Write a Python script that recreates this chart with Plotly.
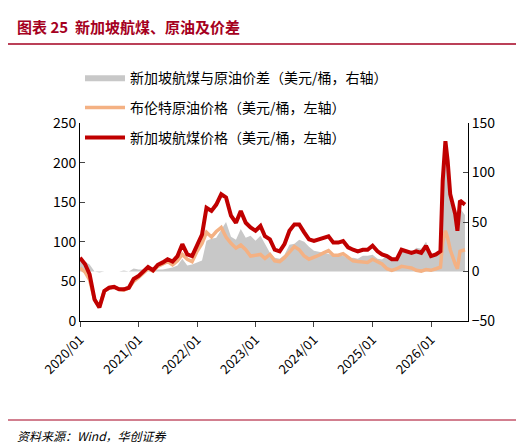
import plotly.graph_objects as go
import pandas as pd

months = pd.date_range("2020-01-01", "2026-03-01", freq="MS").strftime("%Y-%m-%d").tolist()
extra_dates = ["2026-03-15", "2026-04-01", "2026-04-15", "2026-05-01", "2026-06-01", "2026-06-15", "2026-07-01", "2026-08-01"]
dates = months + extra_dates

jet = [80, 72, 59, 27, 17, 38, 42, 43, 40, 40, 42, 53,
       57, 63, 68, 64, 71, 74, 78, 75, 82, 97, 84, 82,
       97, 109, 143, 139, 147, 160, 156, 133, 124, 139, 124, 118,
       114, 120, 107, 103, 90, 88, 97, 114, 122, 122, 112, 103,
       101, 103, 105, 107, 99, 99, 101, 93, 90, 88, 90, 90,
       95, 88, 84, 82, 78, 78, 90, 88, 86, 88, 86, 95,
       82, 84, 88,
       177, 227, 202, 160, 135, 114, 152, 147]
brent = [67, 62, 52, 27, 18, 38, 42, 43, 40, 39, 42, 50,
         55, 61, 66, 63, 69, 72, 75, 71, 76, 84, 78, 75,
         88, 98, 112, 106, 113, 118, 106, 98, 92, 96, 90, 82,
         83, 84, 79, 84, 76, 75, 80, 87, 94, 90, 82, 78,
         80, 83, 86, 89, 83, 83, 85, 80, 76, 75, 74, 74,
         78, 75, 72, 66, 64, 66, 69, 68, 67, 64, 63, 65,
         64, 66, 68,
         100, 114, 105, 90, 72, 66, 88, 90]
spread = [j - b for j, b in zip(jet, brent)]

tick_vals = [f"{y}-01-01" for y in range(2020, 2027)]
tick_text = [f"{y}/01" for y in range(2020, 2027)]

font = "Noto Sans CJK SC"
fig = go.Figure()
# spread on primary axis (drawn first, shown on the right); lines on overlaying left axis
fig.add_trace(go.Scatter(x=dates, y=spread, yaxis="y", mode="lines", line=dict(width=0, color="#c8c8c8"),
                         fill="tozeroy", fillcolor="#c8c8c8", legendgroup="a",
                         name="新加坡航煤与原油价差（美元/桶，右轴）"))
fig.add_trace(go.Scatter(x=dates, y=brent, yaxis="y2", mode="lines", line=dict(width=3.5, color="#f4b183"),
                         legendgroup="b", name="布伦特原油价格（美元/桶，左轴）"))
fig.add_trace(go.Scatter(x=dates, y=jet, yaxis="y2", mode="lines", line=dict(width=4, color="#c00000"),
                         legendgroup="c", name="新加坡航煤价格（美元/桶，左轴）"))

fig.update_layout(
    width=524, height=445, paper_bgcolor="white", plot_bgcolor="white",
    margin=dict(l=72, r=64, t=115, b=132, autoexpand=False),
    font=dict(family=font, size=13, color="black"),
    showlegend=True,
    legend=dict(x=0.0, y=1.31, xanchor="left", yanchor="top", bgcolor="rgba(0,0,0,0)",
                font=dict(size=14), tracegroupgap=9, itemwidth=40),
    xaxis=dict(range=["2020-01-01", "2026-08-20"], tickvals=tick_vals, ticktext=tick_text,
               tickangle=-45, showline=True, linecolor="black", ticks="outside", ticklen=5,
               showgrid=False, tickfont=dict(size=13), automargin=False),
    yaxis=dict(range=[-50, 150], dtick=50, side="right", showline=True,
               linecolor="black", ticks="inside", showgrid=False, zeroline=False, tickfont=dict(size=14),
               automargin=False),
    yaxis2=dict(range=[0, 250], dtick=50, overlaying="y", side="left", showline=True, linecolor="black",
                ticks="inside", showgrid=False, zeroline=False, tickfont=dict(size=14), automargin=False),
    annotations=[
        dict(text="<b>图表 25  新加坡航煤、原油及价差</b>", x=-65/388, y=1+(115-18)/198, xref="paper",
             yref="paper", yanchor="middle", showarrow=False, font=dict(size=15, color="#a50021"),
             xanchor="left"),
        dict(text="<i>资料来源：Wind，华创证券</i>", x=-65/388, y=-(427-313)/198, xref="paper", yref="paper",
             yanchor="middle", showarrow=False, xanchor="left", font=dict(size=12, color="black")),
    ],
    shapes=[
        dict(type="line", xref="paper", yref="paper", x0=-72/388, x1=1+64/388, y0=1+(115-36)/198,
             y1=1+(115-36)/198, line=dict(color="#a50021", width=1.5)),
        dict(type="line", xref="paper", yref="paper", x0=-72/388, x1=1+64/388, y0=-(412-313)/198,
             y1=-(412-313)/198, line=dict(color="#a50021", width=1)),
    ],
)
fig.write_html("out.html")
